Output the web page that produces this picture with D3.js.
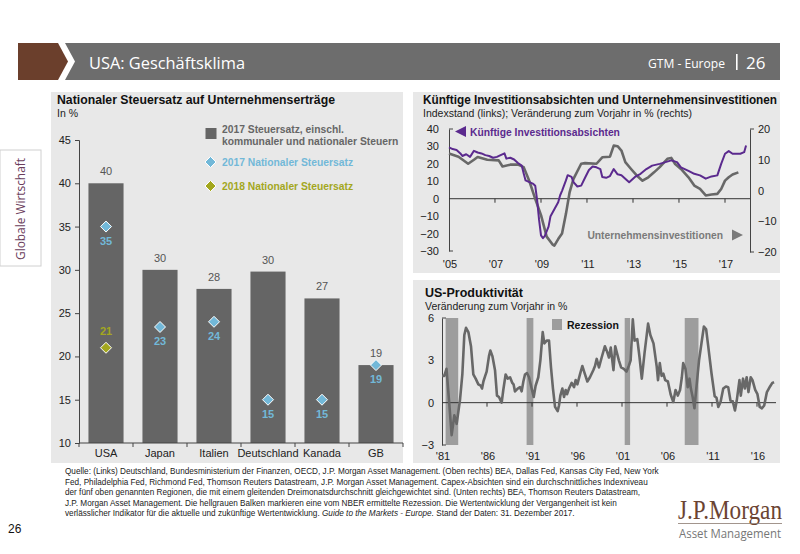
<!DOCTYPE html>
<html>
<head>
<meta charset="utf-8">
<script src="https://cdn.jsdelivr.net/npm/d3@7"></script>
<style>
  body { margin: 0; background: #fff; }
  svg { display: block; font-family: "Liberation Sans", Arial, sans-serif; }
</style>
</head>
<body>
<svg id="page" width="800" height="554"></svg>
<script>
// --- left chart: tax rates
const countries = ['USA', 'Japan', 'Italien', 'Deutschland', 'Kanada', 'GB'];
const tax2017Total = [40, 30, 27.8, 29.8, 26.7, 19.0];
const tax2017TotalLabels = ['40', '30', '28', '30', '27', '19'];
const tax2017National = [35, 23.4, 24, 15, 15, 19];
const tax2017NationalLabels = ['35', '23', '24', '15', '15', '19'];
const tax2018National = [21, null, null, null, null, null];
const tax2018NationalLabels = ['21', '', '', '', '', ''];
const taxTicks = [10, 15, 20, 25, 30, 35, 40, 45];

// --- top right: capex intentions (index, left) and business investment (% y/y, right)
const capexDates = ['2005-01','2005-03','2005-05','2005-07','2005-08','2005-10','2005-12','2006-02','2006-04','2006-06',
  '2006-08','2006-10','2006-12','2007-02','2007-04','2007-06','2007-07','2007-09','2007-11','2008-01','2008-03','2008-04',
  '2008-05','2008-07','2008-09','2008-10','2008-11','2008-12','2009-01','2009-02','2009-03','2009-05','2009-06','2009-08',
  '2009-10','2009-11','2009-12','2010-02','2010-03','2010-05','2010-06','2010-08','2010-10','2010-12','2011-02','2011-04',
  '2011-06','2011-08','2011-09','2011-11','2012-01','2012-03','2012-05','2012-07','2012-10','2012-11','2013-02','2013-05',
  '2013-08','2013-11','2014-03','2014-06','2014-09','2014-12','2015-02','2015-06','2015-09','2015-12','2016-03','2016-06',
  '2016-09','2016-11','2017-01','2017-03','2017-05','2017-09','2017-11','2017-12'];
const capexValues = [29.5,28.5,28,26,24.5,25.5,24,27.5,26.5,26,
  25,24.5,23.5,24,25,26,23,23.5,22.5,20.5,19,14.5,
  10.5,9.5,8.5,7.5,-1,-12,-21,-22.6,-21.5,-16,-10,-6,
  -2,2,4.5,10.5,13.5,12.5,9.5,7,7.5,12,16.5,18.5,
  18,17,12.5,12,13,17,14,13.5,10.5,9.5,12.5,14.3,
  17,19,20,21,22,21,18,16,14.3,13.4,11.5,12.8,
  13.4,20,25.8,27.3,25.8,25.8,26.7,30.5];
const investDates = ['2005-01','2005-06','2005-11','2006-02','2006-04','2006-09','2007-03','2007-05','2007-09','2008-01',
  '2008-04','2008-07','2008-10','2009-01','2009-04','2009-07','2009-08','2009-10','2009-12','2010-02','2010-04','2010-06',
  '2010-10','2010-12','2011-06','2011-09','2012-01','2012-03','2012-05','2012-07','2012-09','2012-12','2013-03','2013-06',
  '2013-09','2013-12','2014-03','2014-07','2014-09','2014-11','2015-02','2015-06','2015-09','2015-12','2016-03','2016-06',
  '2016-09','2016-11','2017-01','2017-03','2017-05','2017-08'];
const investValues = [12,11,8.7,10,10.9,10,9.8,7.8,8.4,8.4,
  7.6,3,-2.7,-8,-15,-17.5,-17.9,-15.8,-14,-7.6,-0.5,3.8,
  8.7,8.9,8.7,10.8,11,14.6,14.4,13,9.2,7,4.9,3.2,
  4.3,5.9,7.6,10.3,10.6,8.6,7,4.3,1.6,0.5,-1.6,-1.3,
  -1.1,0.5,3.2,4.3,5.2,5.9];
const capexTicks = [-30, -20, -10, 0, 10, 20, 30, 40];
const investTicks = [-20, -10, 0, 10, 20];
const capexYearTicks = [2005, 2007, 2009, 2011, 2013, 2015, 2017];

// --- bottom right: US productivity (% y/y)
const prodYears = [1981.0,1981.25,1981.5,1981.8,1982.07,1982.37,1982.63,1983.0,1983.26,1983.48,1983.67,1983.93,
  1984.22,1984.48,1984.74,1985.04,1985.3,1985.45,1985.6,1985.8,1985.96,1986.22,1986.37,1986.6,1986.89,1987.11,
  1987.33,1987.63,1987.81,1988.07,1988.3,1988.56,1988.81,1988.95,1989.11,1989.41,1989.67,1989.85,1990.04,1990.22,
  1990.44,1990.67,1990.96,1991.19,1991.4,1991.7,1991.93,1992.19,1992.37,1992.63,1992.89,1993.11,1993.33,1993.56,
  1993.85,1994.0,1994.15,1994.37,1994.56,1994.74,1994.89,1995.11,1995.41,1995.67,1995.85,1996.04,1996.33,1996.59,
  1996.89,1997.15,1997.44,1997.81,1998.0,1998.19,1998.44,1998.74,1999.1,1999.35,1999.55,1999.75,1999.9,2000.05,
  2000.25,2000.45,2000.65,2000.9,2001.2,2001.5,2001.75,2001.96,2002.2,2002.4,2002.7,2002.95,2003.2,2003.5,
  2003.9,2004.15,2004.5,2004.85,2005.0,2005.2,2005.4,2005.6,2005.8,2006.1,2006.4,2006.7,2006.95,2007.2,
  2007.45,2007.65,2007.8,2008.05,2008.3,2008.5,2008.65,2008.85,2009.05,2009.3,2009.56,2009.85,2010.1,2010.35,
  2010.6,2010.95,2011.3,2011.5,2011.7,2011.95,2012.25,2012.55,2012.8,2013.05,2013.3,2013.55,2013.75,2014.05,
  2014.2,2014.45,2014.65,2014.85,2015.05,2015.3,2015.5,2015.8,2016.05,2016.3,2016.55,2016.8,2017.1,2017.45,
  2017.7,2017.9];
const prodValues = [1.9,1.9,2.4,0.0,-2.3,-0.9,-1.5,0.2,2.0,4.8,5.3,5.0,
  4.0,2.0,1.7,1.3,1.2,1.0,1.5,1.9,2.2,3.3,3.7,3.3,2.3,0.5,
  0.4,0.0,0.9,2.0,1.7,1.8,1.4,1.3,0.8,1.0,1.1,0.8,1.5,2.0,
  2.1,1.8,1.0,0.4,1.2,1.8,3.0,5.0,4.2,4.4,4.4,2.5,1.0,-0.3,
  -0.6,-0.2,0.5,1.0,0.4,0.9,0.6,1.0,1.4,1.1,1.6,1.3,2.0,2.6,
  2.0,1.5,1.8,2.3,2.6,3.1,2.5,3.2,4.0,3.6,3.2,3.9,3.1,2.3,
  4.0,3.5,3.0,2.5,2.4,2.2,2.6,3.0,5.9,4.4,4.5,3.2,1.7,3.5,
  5.6,4.8,4.2,2.6,1.6,2.8,1.9,2.05,1.6,1.5,0.6,0.05,0.9,0.5,
  0.9,1.8,2.8,2.4,1.1,1.7,1.0,0.4,-0.4,1.3,3.0,4.3,5.4,5.2,
  3.9,2.05,0.45,0.35,-0.3,0.05,1.0,1.15,1.1,0.15,0.1,-0.55,0.15,1.6,
  0.5,1.7,1.0,1.8,0.75,1.8,1.6,0.9,0.6,-0.3,-0.4,-0.2,0.75,1.15,
  1.4,1.45];
const recessionStart = [1981.4, 1990.4, 2001.3, 2007.97];
const recessionEnd = [1982.8, 1991.15, 2001.9, 2009.5];
const prodTicks = [-3, 0, 3, 6];
const prodYearTicks = [1981, 1986, 1991, 1996, 2001, 2006, 2011, 2016];

const footnote = [
  'Quelle: (Links) Deutschland, Bundesministerium der Finanzen, OECD, J.P. Morgan Asset Management. (Oben rechts) BEA, Dallas Fed, Kansas City Fed, New York',
  'Fed, Philadelphia Fed, Richmond Fed, Thomson Reuters Datastream, J.P. Morgan Asset Management. Capex-Absichten sind ein durchschnittliches Indexniveau',
  'der fünf oben genannten Regionen, die mit einem gleitenden Dreimonatsdurchschnitt gleichgewichtet sind. (Unten rechts) BEA, Thomson Reuters Datastream,',
  'J.P. Morgan Asset Management. Die hellgrauen Balken markieren eine vom NBER ermittelte Rezession. Die Wertentwicklung der Vergangenheit ist kein'
];

const panelFill = '#e8e8e8';
const barGrey = '#656565';
const natBlue = '#72b8d8';
const olive = '#a3a71e';
const purple = '#5b2a8e';
const lineGrey = '#686868';

const svg = d3.select('#page');

// header
svg.append('path')
  .attr('d', 'M18,43 L58,43 L68,61.5 L58,80 L18,80 Z')
  .attr('fill', '#6b3f2c');
svg.append('path')
  .attr('d', 'M65,43 L780,43 L780,80 L65,80 L75,61.5 Z')
  .attr('fill', '#6d6d6d');
svg.append('text')
  .attr('x', 89).attr('y', 68.5)
  .attr('fill', '#fff')
  .attr('font-family', '"Open Sans", sans-serif')
  .attr('font-size', 17)
  .attr('textLength', 156).attr('lengthAdjust', 'spacingAndGlyphs')
  .text('USA: Geschäftsklima');
svg.append('text')
  .attr('x', 648).attr('y', 68)
  .attr('fill', '#fff')
  .attr('font-family', '"Open Sans", sans-serif')
  .attr('font-size', 13)
  .attr('textLength', 77).attr('lengthAdjust', 'spacingAndGlyphs')
  .text('GTM - Europe');
svg.append('rect').attr('x', 736).attr('y', 54).attr('width', 1.6).attr('height', 16).attr('fill', '#fff');
svg.append('text')
  .attr('x', 746).attr('y', 69)
  .attr('fill', '#fff')
  .attr('font-family', '"Open Sans", sans-serif')
  .attr('font-size', 17)
  .text('26');

// side tab
svg.append('rect').attr('x', 0).attr('y', 150).attr('width', 41).attr('height', 116)
  .attr('fill', '#fff').attr('stroke', '#d0d0d0');
svg.append('text')
  .attr('transform', 'translate(25,209) rotate(-90)')
  .attr('text-anchor', 'middle')
  .attr('fill', '#6b3d5c')
  .attr('font-family', '"Open Sans", sans-serif')
  .attr('font-size', 13)
  .attr('textLength', 102).attr('lengthAdjust', 'spacingAndGlyphs')
  .text('Globale Wirtschaft');

// panels
svg.append('rect').attr('x', 51).attr('y', 92).attr('width', 352).attr('height', 371).attr('fill', panelFill);
svg.append('rect').attr('x', 413).attr('y', 92).attr('width', 367).attr('height', 181).attr('fill', panelFill);
svg.append('rect').attr('x', 413).attr('y', 280).attr('width', 367).attr('height', 183).attr('fill', panelFill);

function panelTitle(x, y, title, sub, w) {
  const t = svg.append('text').attr('x', x).attr('y', y)
    .attr('font-weight', 'bold').attr('font-size', 12.5).attr('fill', '#111')
    .text(title);
  if (w) t.attr('textLength', w).attr('lengthAdjust', 'spacingAndGlyphs');
  svg.append('text').attr('x', x).attr('y', y + 13)
    .attr('font-size', 10.5).attr('fill', '#222')
    .text(sub);
}

function diamond(g, cx, cy, color) {
  g.append('path')
    .attr('d', `M${cx},${cy - 5.5} L${cx + 5.5},${cy} L${cx},${cy + 5.5} L${cx - 5.5},${cy} Z`)
    .attr('fill', color).attr('stroke', '#fff').attr('stroke-width', 1);
}

// ---------------- left chart
panelTitle(57, 104, 'Nationaler Steuersatz auf Unternehmenserträge', 'In %', 278);

const xBand = d3.scaleBand().domain(countries).range([79, 403])
  .paddingInner(0.35).paddingOuter(0.175);
const yTax = d3.scaleLinear().domain([10, 45]).range([443, 140]);

const gTax = svg.append('g');
gTax.selectAll('rect.bar')
  .data(countries)
  .enter().append('rect')
  .attr('class', 'bar')
  .attr('x', d => xBand(d))
  .attr('width', xBand.bandwidth())
  .attr('y', (d, i) => yTax(tax2017Total[i]))
  .attr('height', (d, i) => yTax(10) - yTax(tax2017Total[i]))
  .attr('fill', barGrey);

gTax.selectAll('text.barlab')
  .data(countries)
  .enter().append('text')
  .attr('class', 'barlab')
  .attr('x', d => xBand(d) + xBand.bandwidth() / 2)
  .attr('y', (d, i) => yTax(tax2017Total[i]) - 8)
  .attr('text-anchor', 'middle').attr('font-size', 11).attr('fill', '#555')
  .text((d, i) => tax2017TotalLabels[i]);

countries.forEach((c, i) => {
  const cx = xBand(c) + xBand.bandwidth() / 2;
  diamond(gTax, cx, yTax(tax2017National[i]), natBlue);
  gTax.append('text')
    .attr('x', cx).attr('y', yTax(tax2017National[i]) + 18)
    .attr('text-anchor', 'middle').attr('font-size', 11).attr('font-weight', 'bold')
    .attr('fill', natBlue)
    .text(tax2017NationalLabels[i]);
  if (tax2018National[i] != null) {
    diamond(gTax, cx, yTax(tax2018National[i]), olive);
    gTax.append('text')
      .attr('x', cx).attr('y', yTax(tax2018National[i]) - 13)
      .attr('text-anchor', 'middle').attr('font-size', 11).attr('font-weight', 'bold')
      .attr('fill', olive)
      .text(tax2018NationalLabels[i]);
  }
});

const yTaxAxis = gTax.append('g')
  .attr('transform', 'translate(79,0)')
  .call(d3.axisLeft(yTax).tickValues(taxTicks).tickSize(4).tickPadding(4));
yTaxAxis.selectAll('text').attr('font-size', 11).attr('fill', '#222').attr('font-family', null);
yTaxAxis.selectAll('line, path').attr('stroke', '#444');

const xTaxAxis = gTax.append('g').attr('transform', 'translate(0,443)');
xTaxAxis.append('line').attr('x1', 79).attr('x2', 403).attr('stroke', '#444');
xTaxAxis.selectAll('line.tk')
  .data(d3.range(countries.length + 1))
  .enter().append('line')
  .attr('class', 'tk')
  .attr('x1', i => 79 + i * xBand.step()).attr('x2', i => 79 + i * xBand.step())
  .attr('y1', 0).attr('y2', 4).attr('stroke', '#444');
xTaxAxis.selectAll('text')
  .data(countries)
  .enter().append('text')
  .attr('x', d => xBand(d) + xBand.bandwidth() / 2)
  .attr('y', 14)
  .attr('text-anchor', 'middle').attr('font-size', 11).attr('fill', '#222')
  .text(d => d);

// legend
const lg = svg.append('g').attr('font-size', 10.3).attr('font-weight', 'bold');
lg.append('rect').attr('x', 205.5).attr('y', 128).attr('width', 11).attr('height', 11).attr('fill', barGrey);
lg.append('text').attr('x', 222).attr('y', 133).attr('fill', '#666')
  .text('2017 Steuersatz, einschl.');
lg.append('text').attr('x', 222).attr('y', 145).attr('fill', '#666')
  .text('kommunaler und nationaler Steuern');
diamond(lg, 210.5, 162, natBlue);
lg.append('text').attr('x', 222).attr('y', 165.5).attr('fill', natBlue)
  .text('2017 Nationaler Steuersatz');
diamond(lg, 210.5, 186, olive);
lg.append('text').attr('x', 222).attr('y', 189.5).attr('fill', olive)
  .text('2018 Nationaler Steuersatz');

// ---------------- top right chart
panelTitle(423, 104, 'Künftige Investitionsabsichten und Unternehmensinvestitionen',
  'Indexstand (links); Veränderung zum Vorjahr in % (rechts)', 354);

const parseMonth = d3.timeParse('%Y-%m');
const xTime = d3.scaleTime()
  .domain([new Date(2005, 0, 1), new Date(2018, 0, 1)])
  .range([449, 748]);
const yCapex = d3.scaleLinear().domain([-30, 40]).range([251, 129]);
const yInvest = d3.scaleLinear().domain([-20, 20]).range([252, 129]);

const gCap = svg.append('g');
const yCapAxis = gCap.append('g').attr('transform', 'translate(449,0)')
  .call(d3.axisLeft(yCapex).tickValues(capexTicks).tickSize(0).tickPadding(10));
yCapAxis.select('.domain').attr('stroke', '#444');
yCapAxis.selectAll('text').attr('font-size', 11).attr('fill', '#222').attr('font-family', null);
gCap.append('line').attr('x1', 449).attr('x2', 453).attr('y1', yCapex(40)).attr('y2', yCapex(40)).attr('stroke', '#444');
gCap.append('line').attr('x1', 449).attr('x2', 453).attr('y1', yCapex(-30)).attr('y2', yCapex(-30)).attr('stroke', '#444');

const yInvAxis = gCap.append('g').attr('transform', 'translate(750,0)')
  .call(d3.axisRight(yInvest).tickValues(investTicks).tickSize(0).tickPadding(8));
yInvAxis.select('.domain').attr('stroke', '#444');
yInvAxis.selectAll('text').attr('font-size', 11).attr('fill', '#222').attr('font-family', null);
gCap.append('line').attr('x1', 750).attr('x2', 754).attr('y1', yInvest(20)).attr('y2', yInvest(20)).attr('stroke', '#444');
gCap.append('line').attr('x1', 750).attr('x2', 754).attr('y1', yInvest(-20)).attr('y2', yInvest(-20)).attr('stroke', '#444');

gCap.append('line')
  .attr('x1', 449).attr('x2', 750)
  .attr('y1', yCapex(0)).attr('y2', yCapex(0))
  .attr('stroke', '#333');
gCap.selectAll('line.xt')
  .data(capexYearTicks.slice(1))
  .enter().append('line')
  .attr('class', 'xt')
  .attr('x1', d => xTime(new Date(d, 0, 1))).attr('x2', d => xTime(new Date(d, 0, 1)))
  .attr('y1', yCapex(0)).attr('y2', yCapex(0) + 4)
  .attr('stroke', '#333');
gCap.selectAll('text.xl')
  .data(capexYearTicks)
  .enter().append('text')
  .attr('class', 'xl')
  .attr('x', d => xTime(new Date(d, 0, 1)) + 1)
  .attr('y', 268)
  .attr('text-anchor', 'middle').attr('font-size', 11).attr('fill', '#222')
  .text(d => "'" + String(d).slice(2));

const investLine = d3.line()
  .x((d, i) => xTime(parseMonth(investDates[i])))
  .y(d => yInvest(d));
gCap.append('path')
  .datum(investValues)
  .attr('d', investLine)
  .attr('fill', 'none').attr('stroke', lineGrey).attr('stroke-width', 2.6)
  .attr('stroke-linejoin', 'round');

const capexLine = d3.line()
  .x((d, i) => xTime(parseMonth(capexDates[i])))
  .y(d => yCapex(d));
gCap.append('path')
  .datum(capexValues)
  .attr('d', capexLine)
  .attr('fill', 'none').attr('stroke', purple).attr('stroke-width', 2)
  .attr('stroke-linejoin', 'round');

gCap.append('path').attr('d', 'M455,131.5 L466,126 L466,137 Z').attr('fill', purple);
gCap.append('text').attr('x', 470).attr('y', 135.5)
  .attr('font-size', 10.3).attr('font-weight', 'bold').attr('fill', purple)
  .text('Künftige Investitionsabsichten');
gCap.append('text').attr('x', 723).attr('y', 238.5)
  .attr('text-anchor', 'end')
  .attr('font-size', 10.3).attr('font-weight', 'bold').attr('fill', '#7a7a7a')
  .text('Unternehmensinvestitionen');
gCap.append('path').attr('d', 'M743,235 L732,229.5 L732,240.5 Z').attr('fill', '#7a7a7a');

// ---------------- bottom right chart
panelTitle(425, 297, 'US-Produktivität', 'Veränderung zum Vorjahr in %');

const xYear = d3.scaleLinear().domain([1981, 2018]).range([442, 775]);
const yProd = d3.scaleLinear().domain([-3, 6]).range([445, 318]);

const gProd = svg.append('g');
gProd.selectAll('rect.rec')
  .data(recessionStart)
  .enter().append('rect')
  .attr('class', 'rec')
  .attr('x', d => xYear(d))
  .attr('width', (d, i) => xYear(recessionEnd[i]) - xYear(d))
  .attr('y', yProd(6))
  .attr('height', yProd(-3) - yProd(6))
  .attr('fill', '#9d9d9d');

const yProdAxis = gProd.append('g').attr('transform', 'translate(442,0)')
  .call(d3.axisLeft(yProd).tickValues(prodTicks).tickSize(0).tickPadding(8));
yProdAxis.select('.domain').attr('stroke', '#444');
yProdAxis.selectAll('text').attr('font-size', 11).attr('fill', '#222').attr('font-family', null);
gProd.append('line').attr('x1', 442).attr('x2', 446).attr('y1', yProd(6)).attr('y2', yProd(6)).attr('stroke', '#444');
gProd.append('line').attr('x1', 442).attr('x2', 446).attr('y1', yProd(-3)).attr('y2', yProd(-3)).attr('stroke', '#444');

gProd.append('line')
  .attr('x1', 442).attr('x2', 776)
  .attr('y1', yProd(0)).attr('y2', yProd(0))
  .attr('stroke', '#333');
gProd.selectAll('line.xt')
  .data(prodYearTicks.slice(1))
  .enter().append('line')
  .attr('class', 'xt')
  .attr('x1', d => xYear(d)).attr('x2', d => xYear(d))
  .attr('y1', yProd(0)).attr('y2', yProd(0) + 4)
  .attr('stroke', '#333');
gProd.selectAll('text.xl')
  .data(prodYearTicks)
  .enter().append('text')
  .attr('class', 'xl')
  .attr('x', d => xYear(d) + 1)
  .attr('y', 460)
  .attr('text-anchor', 'middle').attr('font-size', 11).attr('fill', '#222')
  .text(d => "'" + String(d).slice(2));

const prodLine = d3.line()
  .x((d, i) => xYear(prodYears[i]))
  .y(d => yProd(d));
gProd.append('path')
  .datum(prodValues)
  .attr('d', prodLine)
  .attr('fill', 'none').attr('stroke', lineGrey).attr('stroke-width', 2.6)
  .attr('stroke-linejoin', 'round');

gProd.append('rect').attr('x', 552).attr('y', 319).attr('width', 10).attr('height', 11).attr('fill', '#9d9d9d');
gProd.append('text').attr('x', 567).attr('y', 329)
  .attr('font-size', 10.5).attr('font-weight', 'bold').attr('fill', '#111')
  .text('Rezession');

// ---------------- footnote
const foot = svg.append('g').attr('font-size', 8.2).attr('fill', '#222');
footnote.forEach((line, i) => {
  foot.append('text').attr('x', 65).attr('y', 474 + i * 10.6).text(line);
});
const lastLine = foot.append('text').attr('x', 65).attr('y', 474 + 4 * 10.6);
lastLine.append('tspan').text('verlässlicher Indikator für die aktuelle und zukünftige Wertentwicklung. ');
lastLine.append('tspan').attr('font-style', 'italic').text('Guide to the Markets - Europe.');
lastLine.append('tspan').text(' Stand der Daten: 31. Dezember 2017.');

svg.append('text').attr('x', 8).attr('y', 533).attr('font-size', 12).attr('fill', '#111').text('26');

// logo
svg.append('text').attr('x', 678).attr('y', 519)
  .attr('font-family', '"Liberation Serif", serif').attr('font-size', 27).attr('fill', '#6b4433')
  .attr('textLength', 104).attr('lengthAdjust', 'spacingAndGlyphs')
  .text('J.P.Morgan');
svg.append('line').attr('x1', 678).attr('x2', 782).attr('y1', 523.5).attr('y2', 523.5)
  .attr('stroke', '#8a7a70').attr('stroke-width', 0.8);
svg.append('text').attr('x', 679).attr('y', 538)
  .attr('font-family', '"Open Sans", sans-serif').attr('font-size', 13).attr('fill', '#777')
  .attr('textLength', 102).attr('lengthAdjust', 'spacingAndGlyphs')
  .text('Asset Management');
</script>
</body>
</html>
